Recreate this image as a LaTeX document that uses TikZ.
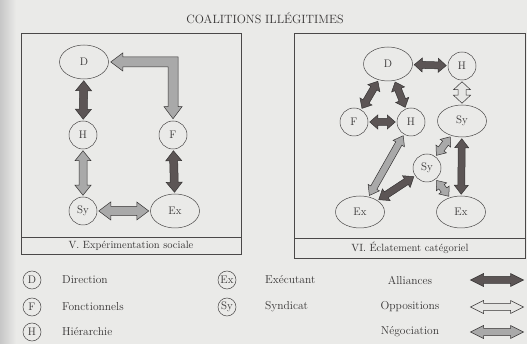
\documentclass[tikz,border=0pt]{standalone}
\usetikzlibrary{calc,shapes.geometric}

\definecolor{paper}{HTML}{EAEAE8}
\definecolor{ink}{HTML}{353333}
\definecolor{rule}{HTML}{4A4848}
\definecolor{alli}{HTML}{5C5555}
\definecolor{oppo}{HTML}{E6E6E4}
\definecolor{nego}{HTML}{A9A9A9}

\tikzset{
  agent/.style={circle, draw=rule, line width=0.5pt, minimum size=28pt,
    inner sep=0pt, text=ink, font=\fontsize{11}{13}\selectfont},
  wide/.style={agent, ellipse, minimum width=49pt, minimum height=34pt},
  key/.style={circle, draw=rule, line width=0.5pt, minimum size=18pt,
    inner sep=0pt, text=ink, font=\fontsize{11}{13}\selectfont},
  keytext/.style={anchor=west, inner sep=0pt, text=ink, font=\fontsize{11.5}{13}\selectfont},
  keyname/.style={inner sep=0pt, text=ink, font=\fontsize{11.5}{13}\selectfont},
  caption/.style={inner sep=0pt, text=ink, font=\fontsize{10.5}{12}\selectfont},
  panel/.style={draw=rule, line width=0.6pt},
  alliance/.style={fill=alli, draw=ink, line width=0.5pt},
  opposition/.style={fill=oppo, draw=ink, line width=0.5pt},
  negotiation/.style={fill=nego, draw=ink, line width=0.5pt},
}

% Fat double-headed arrow between two nodes.
% #1 style, #2 from, #3 to, #4 head length, #5 head half-width, #6 shaft half-width
\newcommand\fatarrow[6]{%
  \path (#2) -- (#3) coordinate[pos=0] (fa-a) coordinate[pos=1] (fa-b);
  \coordinate (fa-s) at ($(fa-a)!1.5pt!(fa-b)$);
  \coordinate (fa-e) at ($(fa-b)!1.5pt!(fa-a)$);
  \draw[#1] (fa-s)
    -- ($(fa-s)!#4!(fa-e)!#5!90:(fa-e)$)
    -- ($(fa-s)!#4!(fa-e)!#6!90:(fa-e)$)
    -- ($(fa-e)!#4!(fa-s)!#6!-90:(fa-s)$)
    -- ($(fa-e)!#4!(fa-s)!#5!-90:(fa-s)$)
    -- (fa-e)
    -- ($(fa-e)!#4!(fa-s)!#5!90:(fa-s)$)
    -- ($(fa-e)!#4!(fa-s)!#6!90:(fa-s)$)
    -- ($(fa-s)!#4!(fa-e)!#6!-90:(fa-e)$)
    -- ($(fa-s)!#4!(fa-e)!#5!-90:(fa-e)$)
    -- cycle;
}

\begin{document}
\begin{tikzpicture}[x=1pt, y=-1pt]
  \useasboundingbox (0,0) rectangle (527,344);
  \fill[paper] (0,0) rectangle (527,344);
  \shade[left color=black!22, right color=paper] (0,0) rectangle (16,344);

  % title
  \node[inner sep=0pt, text=ink, font=\fontsize{12}{14}\selectfont] (title) at (265,18) {COALITIONS ILLÉGITIMES};

  % ---- panel V ----
  \draw[panel] (21,33) rectangle (241,254);
  \draw[panel] (21,237) -- (241,237);
  \node[caption] (capV) at (131,246) {V. Expérimentation sociale};

  \node[wide]  (vD)  at (84,62)  {D};
  \node[agent] (vH)  at (83,135) {H};
  \node[agent] (vF)  at (173,135) {F};
  \node[agent] (vSy) at (83,211) {Sy};
  \node[wide]  (vEx) at (175,211) {Ex};

  \fatarrow{alliance}{vD}{vH}{10pt}{8pt}{4pt}
  \fatarrow{negotiation}{vH}{vSy}{10pt}{8pt}{4pt}
  \fatarrow{alliance}{vF}{vEx}{10pt}{8pt}{4pt}
  \fatarrow{negotiation}{vSy}{vEx}{12pt}{9pt}{4.5pt}

  % bent arrow from D round to F
  \coordinate (lt) at ($(vD.east)+(2,0)$);
  \coordinate (lb) at ($(vF.north)+(0,-2)$);
  \draw[negotiation] (lt) -- ($(lt)+(12,-9)$) -- ($(lt)+(12,-5)$)
    -- ($(lb|-lt)+(5,-5)$) -- ($(lb)+(5,-12)$) -- ($(lb)+(9,-12)$)
    -- (lb) -- ($(lb)+(-9,-12)$) -- ($(lb)+(-5,-12)$)
    -- ($(lb|-lt)+(-5,5)$) -- ($(lt)+(12,5)$) -- ($(lt)+(12,9)$) -- cycle;

  % ---- panel VI ----
  \draw[panel] (294,33) rectangle (525,258);
  \draw[panel] (294,238) -- (525,238);
  \node[caption] (capVI) at (410,248) {VI. Éclatement catégoriel};

  \node[wide]  (wD)   at (388,64)  {D};
  \node[agent] (wH1)  at (462,66)  {H};
  \node[agent] (wF)   at (354,122) {F};
  \node[agent] (wH2)  at (411,122) {H};
  \node[wide, minimum height=32pt] (wSy1) at (462,121) {Sy};
  \node[agent] (wSy2) at (427,168) {Sy};
  \node[wide, minimum height=32pt] (wEx1) at (360,212) {Ex};
  \node[wide, minimum height=32pt] (wEx2) at (461,212) {Ex};

  \fatarrow{alliance}{wD}{wH1}{8pt}{7pt}{3.5pt}
  \fatarrow{alliance}{wF}{wH2}{8pt}{7pt}{3.5pt}
  \fatarrow{alliance}{wD}{wF}{8pt}{7pt}{3.5pt}
  \fatarrow{alliance}{wD}{wH2}{8pt}{7pt}{3.5pt}
  \fatarrow{opposition}{wH1}{wSy1}{8pt}{8.5pt}{4pt}
  \fatarrow{negotiation}{wH2}{wEx1}{9pt}{6.5pt}{3.5pt}
  \fatarrow{alliance}{wSy2}{wEx1}{9pt}{7pt}{3.5pt}
  \fatarrow{negotiation}{wSy1}{wSy2}{8pt}{6.5pt}{3.5pt}
  \fatarrow{negotiation}{wSy2}{wEx2}{8pt}{6.5pt}{3.5pt}
  \fatarrow{alliance}{wSy1}{wEx2}{9pt}{7pt}{3.5pt}

  % ---- key ----
  \node[key] (kD)  at (32,280) {D};
  \node[key] (kF)  at (32,307) {F};
  \node[key] (kH)  at (32,332) {H};
  \node[keytext] (tD) at (62,280) {Direction};
  \node[keytext] (tF) at (62,307) {Fonctionnels};
  \node[keytext] (tH) at (62,332) {Hiérarchie};

  \node[key] (kEx) at (227,280) {Ex};
  \node[key] (kSy) at (227,307) {Sy};
  \node[keytext] (tEx) at (265,280) {Exécutant};
  \node[keytext] (tSy) at (265,307) {Syndicat};

  \node[keyname] (nA) at (410,280) {Alliances};
  \node[keyname] (nO) at (410,307) {Oppositions};
  \node[keyname] (nN) at (410,332) {Négociation};

  \coordinate (aA1) at (469,280); \coordinate (aA2) at (525,280);
  \coordinate (aO1) at (469,307); \coordinate (aO2) at (525,307);
  \coordinate (aN1) at (469,332); \coordinate (aN2) at (525,332);
  \fatarrow{alliance}{aA1}{aA2}{13pt}{6.5pt}{3.5pt}
  \fatarrow{opposition}{aO1}{aO2}{13pt}{6.5pt}{3.5pt}
  \fatarrow{negotiation}{aN1}{aN2}{13pt}{6.5pt}{3.5pt}
\end{tikzpicture}
\end{document}
